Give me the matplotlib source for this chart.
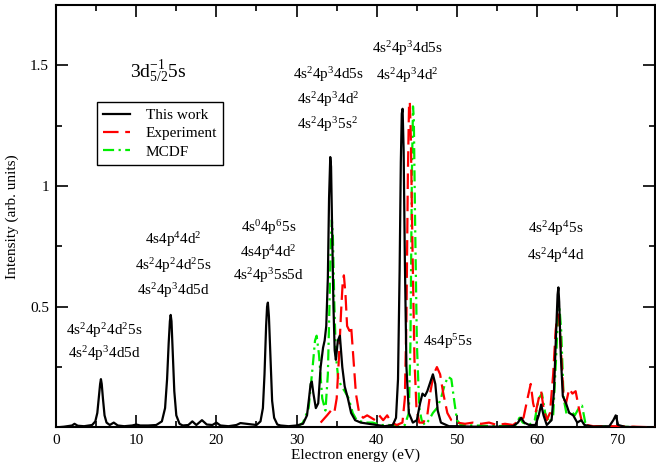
import matplotlib
matplotlib.use("Agg")
import matplotlib.pyplot as plt
from matplotlib.ticker import MultipleLocator

plt.rcParams['font.family'] = ['Liberation Serif', 'DejaVu Serif']
plt.rcParams['mathtext.fontset'] = 'custom'
plt.rcParams['mathtext.rm'] = 'Liberation Serif'
plt.rcParams['mathtext.it'] = 'Liberation Serif:italic'
plt.rcParams['mathtext.default'] = 'regular'

# this work (black solid)
work_e = [0.0, 1.0, 2.0, 2.3, 2.7, 3.5, 4.5, 4.9, 5.15, 5.35, 5.5, 5.6, 5.7, 5.85,
          6.05, 6.3, 6.7, 7.2, 7.7, 8.5, 9.5, 10.0, 10.5, 11.5, 12.5, 13.2, 13.6,
          13.85, 14.05, 14.2, 14.3, 14.4, 14.55, 14.75, 15.0, 15.4, 15.8, 16.5, 17.0,
          17.5, 18.2, 18.8, 19.5, 20.0, 20.5, 21.5, 22.5, 23.0, 24.0, 25.0, 25.5,
          25.8, 26.0, 26.2, 26.32, 26.42, 26.55, 26.75, 26.95, 27.2, 27.6, 28.0, 29.0,
          30.0, 30.8, 31.3, 31.55, 31.75, 31.9, 32.1, 32.4, 32.7, 33.0, 33.3, 33.5,
          33.7, 33.9, 34.05, 34.2, 34.3, 34.45, 34.6, 34.75, 34.9, 35.15, 35.4, 35.7,
          36.0, 36.4, 36.8, 37.3, 38.0, 39.0, 40.0, 41.0, 42.0, 42.4, 42.65, 42.85,
          43.0, 43.12, 43.22, 43.35, 43.5, 43.7, 44.0, 44.5, 45.0, 45.4, 45.7, 46.0,
          46.3, 46.7, 47.0, 47.3, 47.6, 48.0, 49.0, 50.0, 52.0, 55.0, 57.0, 57.6, 58.0,
          58.4, 59.0, 59.8, 60.2, 60.5, 60.8, 61.2, 61.8, 62.1, 62.35, 62.55, 62.65,
          62.75, 62.95, 63.2, 63.6, 64.0, 64.5, 65.0, 65.5, 65.9, 67.0, 69.0, 69.5,
          69.8, 70.1, 71.0, 75.0]
work_i = [0.0, 0.003, 0.008, 0.015, 0.007, 0.005, 0.01, 0.025, 0.06, 0.13, 0.18,
          0.20, 0.18, 0.12, 0.05, 0.02, 0.01, 0.02, 0.008, 0.005, 0.008, 0.012, 0.008,
          0.008, 0.01, 0.025, 0.08, 0.20, 0.35, 0.44, 0.466, 0.44, 0.32, 0.15, 0.05,
          0.015, 0.008, 0.01, 0.025, 0.01, 0.03, 0.012, 0.01, 0.02, 0.008, 0.005, 0.01,
          0.018, 0.014, 0.01, 0.025, 0.08, 0.22, 0.42, 0.50, 0.517, 0.46, 0.28, 0.11,
          0.04, 0.012, 0.008, 0.005, 0.008, 0.015, 0.05, 0.12, 0.18, 0.19, 0.14, 0.08,
          0.10, 0.25, 0.33, 0.36, 0.42, 0.62, 0.95, 1.12, 1.08, 0.80, 0.50, 0.32, 0.28,
          0.36, 0.38, 0.25, 0.17, 0.12, 0.06, 0.03, 0.02, 0.015, 0.01, 0.005, 0.01,
          0.04, 0.20, 0.65, 1.10, 1.30, 1.32, 1.15, 0.70, 0.25, 0.06, 0.02, 0.03, 0.10,
          0.14, 0.13, 0.15, 0.19, 0.22, 0.18, 0.07, 0.02, 0.005, 0.005, 0.003, 0.003,
          0.005, 0.02, 0.04, 0.02, 0.01, 0.01, 0.05, 0.095, 0.05, 0.01, 0.03, 0.15,
          0.38, 0.55, 0.58, 0.52, 0.30, 0.13, 0.10, 0.06, 0.05, 0.02, 0.03, 0.01, 0.003,
          0.005, 0.03, 0.05, 0.01, 0.002, 0.0]

# experiment (red dashed)
exp_e = [33.0, 33.8, 34.3, 34.7, 35.0, 35.3, 35.55, 35.75, 35.9, 36.1, 36.3, 36.6,
         36.8, 37.1, 37.4, 37.8, 38.3, 38.8, 39.3, 39.8, 40.3, 40.8, 41.3, 41.8, 42.5,
         43.2, 43.5, 43.7, 43.88, 44.02, 44.12, 44.25, 44.45, 44.7, 44.95, 45.3, 45.8,
         46.3, 46.7, 47.1, 47.5, 47.9, 48.3, 48.8, 49.3, 50.0, 51.0, 52.0, 53.0, 54.0,
         55.0, 56.0, 57.0, 57.8, 58.3, 58.8, 59.2, 59.5, 59.8, 60.2, 60.5, 60.8, 61.2,
         61.6, 62.0, 62.3, 62.55, 62.75, 63.0, 63.3, 63.6, 64.0, 64.4, 64.8, 65.2, 65.6,
         66.2, 67.0, 70.0, 75.0]
exp_i = [0.02, 0.05, 0.07, 0.06, 0.12, 0.30, 0.48, 0.60, 0.63, 0.55, 0.42, 0.40, 0.42,
         0.28, 0.14, 0.06, 0.04, 0.05, 0.04, 0.03, 0.05, 0.03, 0.05, 0.02, 0.01, 0.02,
         0.12, 0.45, 1.05, 1.33, 1.35, 1.20, 0.75, 0.28, 0.08, 0.02, 0.02, 0.05, 0.15,
         0.22, 0.25, 0.22, 0.14, 0.06, 0.03, 0.02, 0.015, 0.02, 0.015, 0.02, 0.01,
         0.015, 0.01, 0.03, 0.04, 0.12, 0.18, 0.10, 0.06, 0.12, 0.15, 0.08, 0.03, 0.06,
         0.22, 0.40, 0.47, 0.45, 0.30, 0.12, 0.10, 0.16, 0.14, 0.15, 0.08, 0.02, 0.01,
         0.005, 0.005, 0.0]

# MCDF (green dash-dot)
mcdf_e = [30.0, 30.8, 31.5, 32.0, 32.3, 32.5, 32.8, 33.2, 33.6, 33.9, 34.1, 34.28,
          34.4, 34.52, 34.7, 34.9, 35.2, 35.6, 36.0, 36.5, 37.0, 37.5, 38.5, 39.5, 40.5,
          41.5, 42.5, 43.5, 44.0, 44.2, 44.38, 44.52, 44.62, 44.78, 45.0, 45.3, 45.6,
          46.0, 46.5, 47.0, 47.5, 48.0, 48.5, 48.9, 49.3, 49.7, 50.0, 50.5, 55.0, 57.3,
          57.8, 58.2, 59.0, 59.7, 60.2, 60.6, 61.0, 61.5, 62.0, 62.35, 62.6, 62.8, 63.0,
          63.3, 63.7, 64.2, 64.7, 65.2, 65.6, 66.0, 66.5, 75.0]
mcdf_i = [0.0, 0.02, 0.08, 0.25, 0.36, 0.38, 0.30, 0.12, 0.07, 0.22, 0.50, 0.78, 0.86,
          0.80, 0.52, 0.30, 0.20, 0.17, 0.15, 0.12, 0.06, 0.03, 0.02, 0.02, 0.01, 0.01,
          0.005, 0.01, 0.06, 0.35, 1.05, 1.33, 1.28, 0.85, 0.35, 0.08, 0.03, 0.01, 0.03,
          0.06, 0.08, 0.12, 0.18, 0.21, 0.20, 0.10, 0.03, 0.01, 0.005, 0.01, 0.04, 0.02,
          0.01, 0.03, 0.12, 0.14, 0.06, 0.02, 0.05, 0.28, 0.46, 0.49, 0.40, 0.12, 0.05,
          0.07, 0.05, 0.08, 0.09, 0.02, 0.005, 0.0]

x_ticks = [0, 10, 20, 30, 40, 50, 60, 70]
y_ticks = [0.5, 1.0, 1.5]
y_tick_labels = ['0.5', '1', '1.5']

fig = plt.figure(figsize=(6.56, 4.70), dpi=100)
ax = fig.add_axes([0.0854, 0.0906, 0.9131, 0.8988])

ax.plot(work_e, work_i, color='black', lw=1.6, label='This work', zorder=4)
ax.plot(exp_e, exp_i, color='#ff0000', lw=1.6, dashes=(7, 3), label='Experiment', zorder=3)
ax.plot(mcdf_e, mcdf_i, color='#00ee00', lw=1.6, dashes=(5, 2, 1, 2),
        label='MCDF', zorder=2)

ax.set_xlim(0, 74.7)
ax.set_ylim(0, 1.75)
ax.set_xticks(x_ticks)
ax.set_yticks(y_ticks)
ax.set_yticklabels(y_tick_labels)
ax.xaxis.set_minor_locator(MultipleLocator(5))
ax.yaxis.set_minor_locator(MultipleLocator(0.25))
ax.tick_params(which='both', direction='in', top=True, right=True, labelsize=11, width=1.2)
ax.tick_params(which='major', length=8.5, pad=5)
ax.tick_params(which='minor', length=4.5)
for s in ax.spines.values():
    s.set_linewidth(1.5)

ax.set_xlabel('Electron energy (eV)', fontsize=11, labelpad=1)
ax.set_ylabel('Intensity (arb. units)', fontsize=11, labelpad=8)

ax.text(12.7, 1.45, r'3d$_{5/2}^{-1}$5s', fontsize=14, ha='center', va='baseline')

labels = [
    (6.0, 0.381, r'4s$^2$4p$^2$4d$^2$5s'),
    (6.0, 0.286, r'4s$^2$4p$^3$4d5d'),
    (14.6, 0.759, r'4s4p$^4$4d$^2$'),
    (14.6, 0.652, r'4s$^2$4p$^2$4d$^2$5s'),
    (14.6, 0.549, r'4s$^2$4p$^3$4d5d'),
    (26.5, 0.809, r'4s$^0$4p$^6$5s'),
    (26.5, 0.706, r'4s4p$^4$4d$^2$'),
    (26.5, 0.611, r'4s$^2$4p$^3$5s5d'),
    (33.9, 1.443, r'4s$^2$4p$^3$4d5s'),
    (33.9, 1.339, r'4s$^2$4p$^3$4d$^2$'),
    (33.9, 1.236, r'4s$^2$4p$^3$5s$^2$'),
    (43.8, 1.551, r'4s$^2$4p$^3$4d5s'),
    (43.8, 1.439, r'4s$^2$4p$^3$4d$^2$'),
    (48.9, 0.337, r'4s4p$^5$5s'),
    (62.3, 0.805, r'4s$^2$4p$^4$5s'),
    (62.3, 0.693, r'4s$^2$4p$^4$4d'),
]
for x, y, t in labels:
    ax.text(x, y, t, fontsize=11, ha='center', va='baseline')

leg = ax.legend(loc='upper left', bbox_to_anchor=(0.068, 0.770), borderaxespad=0,
                fontsize=11, fancybox=False, framealpha=1, edgecolor='black',
                handlelength=1.8, handletextpad=1.0, labelspacing=0.3,
                borderpad=0.4)
leg.get_frame().set_linewidth(1.0)

fig.savefig('out.png', dpi=100)
